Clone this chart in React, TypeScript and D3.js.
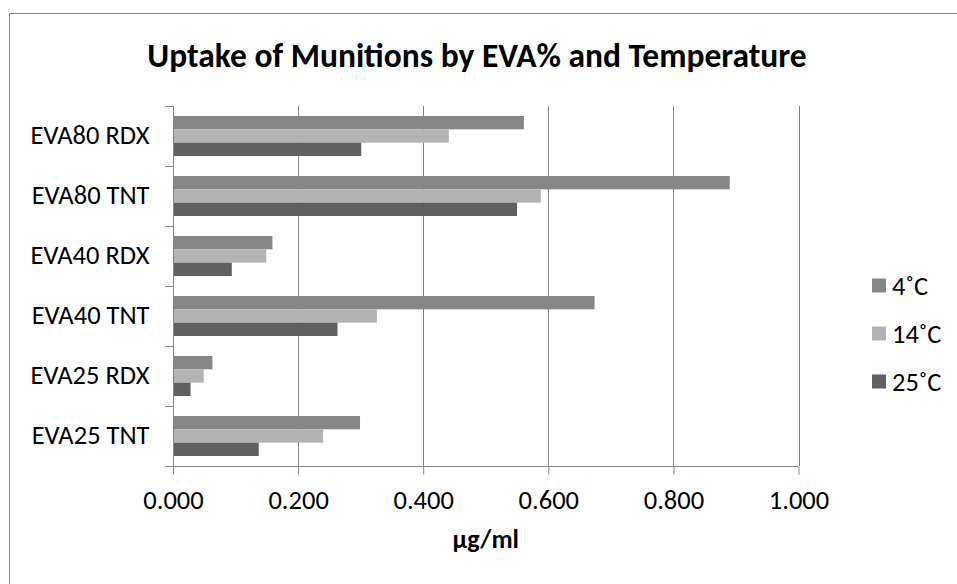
import { useEffect, useRef } from 'react';
import * as d3 from 'd3';

const categories = ['EVA80 RDX', 'EVA80 TNT', 'EVA40 RDX', 'EVA40 TNT', 'EVA25 RDX', 'EVA25 TNT'];
const seriesNames = ['4˚C', '14˚C', '25˚C'];
const values4C = [0.561, 0.89, 0.159, 0.674, 0.063, 0.299];
const values14C = [0.441, 0.588, 0.149, 0.326, 0.049, 0.24];
const values25C = [0.301, 0.55, 0.094, 0.263, 0.028, 0.137];
const xTicks = [0, 0.2, 0.4, 0.6, 0.8, 1.0];

const colors = ['#868686', '#b3b3b3', '#606060'];
const FONT = 'Carlito, Calibri, "Open Sans", sans-serif';

export default function App() {
  const svgRef = useRef<SVGSVGElement>(null);

  useEffect(() => {
    if (!svgRef.current) return;
    const W = 957;
    const H = 584;
    const plot = { left: 173, right: 798.5, top: 106, bottom: 466 };

    const svg = d3.select(svgRef.current);
    svg.selectAll('*').remove();
    svg.attr('width', W).attr('height', H);

    // chart frame, runs off the right and bottom edges
    svg
      .append('rect')
      .attr('x', 9.5)
      .attr('y', 13.5)
      .attr('width', W)
      .attr('height', H)
      .attr('fill', '#fff')
      .attr('stroke', '#868686');

    svg
      .append('text')
      .attr('x', 477)
      .attr('y', 67)
      .attr('text-anchor', 'middle')
      .style('font-family', FONT)
      .style('font-weight', 'bold')
      .style('font-size', '33.5px')
      .text('Uptake of Munitions by EVA% and Temperature');

    const x = d3.scaleLinear().domain([0, 1]).range([plot.left, plot.right]);
    const y = d3.scaleBand<string>().domain(categories).range([plot.top, plot.bottom]);
    const ySub = d3
      .scaleBand<string>()
      .domain(seriesNames)
      .range([0, y.bandwidth()])
      .paddingInner(0)
      .paddingOuter(0.75);

    // vertical grid lines
    svg
      .append('g')
      .selectAll('line')
      .data(xTicks.slice(1))
      .join('line')
      .attr('x1', (d) => Math.round(x(d)) + 0.5)
      .attr('x2', (d) => Math.round(x(d)) + 0.5)
      .attr('y1', plot.top)
      .attr('y2', plot.bottom)
      .attr('stroke', '#868686');

    const allValues = [values4C, values14C, values25C];
    seriesNames.forEach((name, si) => {
      svg
        .append('g')
        .selectAll('rect')
        .data(categories)
        .join('rect')
        .attr('x', x(0))
        .attr('y', (c) => (y(c) ?? 0) + (ySub(name) ?? 0))
        .attr('width', (_, i) => x(allValues[si][i]) - x(0))
        .attr('height', ySub.bandwidth())
        .attr('fill', colors[si]);
    });

    // bottom axis
    const xAxis = svg
      .append('g')
      .attr('transform', `translate(0, ${plot.bottom + 0.5})`)
      .call(
        d3
          .axisBottom(x)
          .tickValues(xTicks)
          .tickFormat(d3.format('.3f'))
          .tickSize(8)
          .tickSizeOuter(0)
          .tickPadding(16),
      );
    xAxis.select('.domain').attr('stroke', '#868686').attr('d', `M${plot.left - 8},0H${plot.right}`);
    xAxis.selectAll('line').attr('stroke', '#868686');
    xAxis
      .selectAll('text')
      .style('font-family', FONT)
      .style('font-size', '26.5px')
      .attr('fill', '#000');

    // left axis
    const yAxis = svg
      .append('g')
      .attr('transform', `translate(${plot.left + 0.5}, 0)`)
      .call(d3.axisLeft(y).tickSize(0).tickPadding(24));
    yAxis.select('.domain').attr('stroke', '#868686').attr('d', `M0,${plot.top}V${plot.bottom + 8}`);
    yAxis
      .selectAll('text')
      .style('font-family', FONT)
      .style('font-size', '26.5px')
      .attr('fill', '#000');

    const boundaries = categories.map((c) => y(c) ?? 0);
    svg
      .append('g')
      .selectAll('line')
      .data(boundaries)
      .join('line')
      .attr('x1', plot.left - 8)
      .attr('x2', plot.left)
      .attr('y1', (d) => Math.round(d) + 0.5)
      .attr('y2', (d) => Math.round(d) + 0.5)
      .attr('stroke', '#868686');

    svg
      .append('text')
      .attr('x', (plot.left + plot.right) / 2)
      .attr('y', 539)
      .attr('dy', '0.35em')
      .attr('text-anchor', 'middle')
      .style('font-family', FONT)
      .style('font-weight', 'bold')
      .style('font-size', '26px')
      .text('µg/ml');

    // legend
    const legend = svg
      .append('g')
      .selectAll('g')
      .data(seriesNames)
      .join('g')
      .attr('transform', (_, i) => `translate(872, ${285.5 + i * 48})`);
    legend
      .append('rect')
      .attr('x', 0)
      .attr('y', -7)
      .attr('width', 14)
      .attr('height', 14)
      .attr('fill', (_, i) => colors[i]);
    legend
      .append('text')
      .attr('x', 20)
      .attr('y', 0)
      .attr('dy', '0.35em')
      .style('font-family', FONT)
      .style('font-size', '26.5px')
      .text((d) => d);
  }, []);

  return (
    <svg
      ref={svgRef}
      style={{ position: 'absolute', left: 0, top: 0, display: 'block' }}
    />
  );
}
